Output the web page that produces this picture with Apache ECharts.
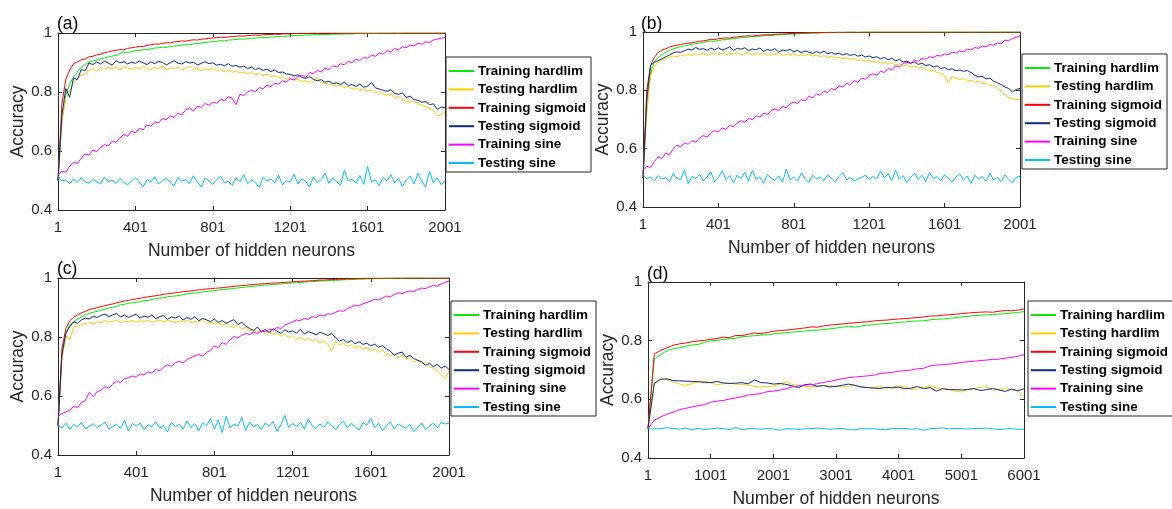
<!DOCTYPE html>
<html><head><meta charset="utf-8">
<script src="https://cdn.jsdelivr.net/npm/echarts@6/dist/echarts.min.js"></script>
<style>html,body{margin:0;padding:0;background:#fff}#c{width:1172px;height:509px}</style>
</head><body><div id="c"></div>
<script>
// ---------- data ----------
const seriesNames = ['Training hardlim','Testing hardlim','Training sigmoid','Testing sigmoid','Training sine','Testing sine'];
const panelLabels = ['(a)','(b)','(c)','(d)'];
const neuronsABC = Array.from({length:101},(_,i)=>String(1+20*i));   // 1,21,...,2001
const neuronsD   = Array.from({length:61},(_,i)=>String(1+100*i));   // 1,101,...,6001
const xTitle = 'Number of hidden neurons';
const yTitle = 'Accuracy';

// panel (a)
const a_trainHard = [0.500,0.700,0.790,0.828,0.850,0.868,0.884,0.893,0.901,0.905,
0.908,0.912,0.915,0.919,0.922,0.924,0.930,0.935,0.934,0.937,
0.940,0.941,0.944,0.943,0.946,0.949,0.950,0.952,0.951,0.954,
0.956,0.957,0.959,0.961,0.960,0.963,0.965,0.966,0.968,0.969,
0.971,0.972,0.974,0.973,0.976,0.977,0.978,0.980,0.979,0.981,
0.982,0.983,0.984,0.985,0.985,0.986,0.987,0.988,0.989,0.989,
0.990,0.991,0.991,0.992,0.993,0.993,0.994,0.994,0.995,0.995,
0.995,0.996,0.996,0.996,0.997,0.997,0.997,0.998,0.998,0.998,
0.998,0.999,0.998,0.999,0.999,0.999,0.999,1.000,0.999,1.000,
1.000,1.000,1.000,1.000,1.000,1.000,1.000,1.000,1.000,1.000,
1.000];
const a_testHard = [0.500,0.700,0.780,0.805,0.828,0.846,0.858,0.861,0.873,0.879,
0.871,0.882,0.876,0.885,0.879,0.883,0.874,0.886,0.880,0.877,
0.884,0.878,0.887,0.881,0.875,0.883,0.879,0.888,0.876,0.882,
0.880,0.885,0.874,0.881,0.886,0.877,0.882,0.871,0.879,0.875,
0.880,0.873,0.876,0.869,0.874,0.867,0.871,0.864,0.868,0.862,
0.866,0.858,0.863,0.855,0.860,0.851,0.856,0.848,0.852,0.844,
0.846,0.840,0.843,0.836,0.838,0.833,0.835,0.849,0.829,0.831,
0.825,0.828,0.820,0.823,0.816,0.819,0.810,0.814,0.806,0.811,
0.803,0.807,0.798,0.801,0.794,0.789,0.792,0.781,0.785,0.775,
0.770,0.765,0.768,0.760,0.755,0.750,0.745,0.738,0.719,0.722,
0.734];
const a_trainSig = [0.500,0.760,0.842,0.874,0.896,0.902,0.909,0.912,0.919,0.921,
0.926,0.928,0.933,0.936,0.939,0.941,0.944,0.943,0.948,0.950,
0.952,0.955,0.954,0.958,0.960,0.963,0.962,0.965,0.967,0.966,
0.970,0.971,0.973,0.972,0.975,0.977,0.976,0.979,0.980,0.982,
0.983,0.984,0.986,0.985,0.987,0.988,0.989,0.990,0.989,0.991,
0.992,0.993,0.992,0.994,0.995,0.995,0.996,0.995,0.997,0.997,
0.997,0.998,0.998,0.999,0.998,0.999,1.000,0.999,1.000,1.000,
1.000,1.000,1.000,1.000,1.000,1.000,1.000,1.000,1.000,1.000,
1.000,1.000,1.000,1.000,1.000,1.000,1.000,1.000,1.000,1.000,
1.000,1.000,1.000,1.000,1.000,1.000,1.000,1.000,1.000,1.000,
1.000];
const a_testSig = [0.500,0.720,0.812,0.782,0.848,0.842,0.876,0.872,0.898,0.893,
0.902,0.895,0.904,0.898,0.891,0.906,0.899,0.903,0.895,0.901,
0.897,0.905,0.899,0.893,0.902,0.896,0.904,0.900,0.892,0.899,
0.906,0.898,0.895,0.903,0.898,0.901,0.892,0.897,0.903,0.896,
0.899,0.891,0.894,0.889,0.896,0.887,0.890,0.884,0.888,0.879,
0.885,0.876,0.881,0.873,0.877,0.869,0.874,0.866,0.868,0.861,
0.860,0.855,0.858,0.849,0.846,0.852,0.843,0.838,0.842,0.833,
0.836,0.829,0.831,0.826,0.833,0.822,0.825,0.819,0.827,0.816,
0.820,0.832,0.814,0.810,0.806,0.802,0.808,0.795,0.792,0.797,
0.781,0.786,0.774,0.772,0.765,0.768,0.757,0.760,0.741,0.749,
0.746];
const a_trainSine = [0.520,0.531,0.528,0.548,0.562,0.558,0.575,0.590,0.586,0.603,
0.598,0.612,0.622,0.617,0.633,0.629,0.645,0.656,0.650,0.668,
0.661,0.677,0.672,0.688,0.684,0.699,0.695,0.710,0.706,0.719,
0.714,0.728,0.722,0.740,0.746,0.735,0.752,0.748,0.761,0.755,
0.766,0.762,0.776,0.770,0.784,0.779,0.757,0.792,0.788,0.800,
0.806,0.801,0.815,0.811,0.823,0.818,0.830,0.826,0.838,0.834,
0.845,0.841,0.852,0.858,0.849,0.866,0.862,0.873,0.868,0.880,
0.876,0.889,0.885,0.896,0.892,0.904,0.899,0.911,0.907,0.918,
0.914,0.925,0.921,0.932,0.928,0.940,0.936,0.947,0.943,0.953,
0.950,0.959,0.956,0.965,0.962,0.970,0.968,0.976,0.979,0.982,
0.985];
const a_testSine = [0.515,0.498,0.502,0.489,0.505,0.493,0.510,0.496,0.491,0.503,
0.497,0.488,0.512,0.495,0.501,0.490,0.507,0.494,0.485,0.499,
0.509,0.496,0.478,0.503,0.495,0.513,0.488,0.500,0.507,0.493,
0.482,0.511,0.497,0.504,0.490,0.516,0.495,0.478,0.508,0.499,
0.487,0.503,0.514,0.492,0.498,0.484,0.510,0.496,0.520,0.489,
0.502,0.493,0.476,0.512,0.499,0.505,0.491,0.518,0.486,0.500,
0.495,0.521,0.488,0.506,0.497,0.478,0.513,0.492,0.503,0.525,
0.490,0.508,0.496,0.484,0.534,0.499,0.505,0.491,0.517,0.487,
0.548,0.496,0.502,0.483,0.511,0.498,0.520,0.492,0.507,0.480,
0.501,0.515,0.488,0.524,0.497,0.478,0.531,0.492,0.509,0.486,
0.497];

// panel (b)
const b_trainHard = [0.500,0.750,0.860,0.898,0.912,0.922,0.930,0.937,0.942,0.946,
0.950,0.953,0.955,0.958,0.960,0.962,0.964,0.967,0.969,0.968,
0.971,0.973,0.974,0.976,0.977,0.979,0.980,0.981,0.983,0.984,
0.985,0.986,0.987,0.988,0.988,0.990,0.990,0.991,0.992,0.993,
0.993,0.994,0.995,0.995,0.996,0.996,0.997,0.997,0.998,0.998,
0.998,0.999,0.998,0.999,0.999,0.999,1.000,0.999,1.000,1.000,
1.000,1.000,1.000,1.000,1.000,1.000,1.000,1.000,1.000,1.000,
1.000,1.000,1.000,1.000,1.000,1.000,1.000,1.000,1.000,1.000,
1.000,1.000,1.000,1.000,1.000,1.000,1.000,1.000,1.000,1.000,
1.000,1.000,1.000,1.000,1.000,1.000,1.000,1.000,1.000,1.000,
1.000];
const b_testHard = [0.500,0.720,0.850,0.880,0.898,0.905,0.910,0.913,0.918,0.915,
0.921,0.917,0.924,0.919,0.926,0.922,0.928,0.920,0.925,0.929,
0.923,0.927,0.921,0.928,0.924,0.930,0.922,0.926,0.929,0.921,
0.927,0.923,0.929,0.920,0.925,0.922,0.928,0.919,0.924,0.921,
0.926,0.918,0.923,0.920,0.925,0.917,0.921,0.915,0.919,0.913,
0.917,0.910,0.914,0.908,0.912,0.905,0.909,0.902,0.906,0.899,
0.903,0.896,0.900,0.893,0.897,0.890,0.894,0.887,0.891,0.883,
0.888,0.880,0.884,0.876,0.879,0.871,0.866,0.869,0.861,0.858,
0.850,0.825,0.848,0.842,0.836,0.840,0.831,0.835,0.827,0.832,
0.822,0.826,0.815,0.819,0.808,0.797,0.785,0.776,0.772,0.769,
0.770];
const b_trainSig = [0.500,0.800,0.885,0.912,0.930,0.938,0.942,0.948,0.952,0.955,
0.957,0.960,0.962,0.963,0.966,0.968,0.970,0.972,0.975,0.974,
0.977,0.978,0.980,0.979,0.982,0.983,0.985,0.986,0.987,0.986,
0.988,0.989,0.990,0.991,0.990,0.992,0.993,0.993,0.994,0.995,
0.995,0.996,0.996,0.997,0.997,0.998,0.997,0.998,0.998,0.999,
0.999,0.999,1.000,0.999,1.000,1.000,1.000,0.999,1.000,1.000,
1.000,1.000,1.000,1.000,1.000,1.000,1.000,1.000,1.000,1.000,
1.000,1.000,1.000,1.000,1.000,1.000,1.000,1.000,1.000,1.000,
1.000,1.000,1.000,1.000,1.000,1.000,1.000,1.000,1.000,1.000,
1.000,1.000,1.000,1.000,1.000,1.000,1.000,1.000,1.000,1.000,
1.000];
const b_testSig = [0.500,0.770,0.885,0.896,0.902,0.908,0.915,0.921,0.928,0.932,
0.930,0.936,0.941,0.938,0.947,0.940,0.943,0.937,0.945,0.939,
0.946,0.938,0.943,0.949,0.937,0.944,0.941,0.946,0.936,0.942,
0.939,0.945,0.934,0.940,0.937,0.943,0.931,0.938,0.935,0.941,
0.932,0.937,0.929,0.935,0.931,0.926,0.933,0.928,0.934,0.925,
0.930,0.924,0.928,0.921,0.926,0.919,0.924,0.917,0.921,0.914,
0.918,0.912,0.915,0.908,0.913,0.905,0.910,0.901,0.906,0.897,
0.900,0.894,0.897,0.889,0.893,0.885,0.888,0.880,0.884,0.875,
0.878,0.871,0.874,0.867,0.870,0.865,0.868,0.861,0.852,0.846,
0.848,0.839,0.842,0.831,0.826,0.820,0.812,0.806,0.795,0.803,
0.807];
const b_trainSine = [0.525,0.540,0.535,0.556,0.572,0.566,0.585,0.579,0.598,0.612,
0.606,0.620,0.615,0.628,0.622,0.637,0.645,0.640,0.655,0.662,
0.657,0.671,0.666,0.680,0.675,0.688,0.696,0.690,0.704,0.699,
0.713,0.708,0.722,0.717,0.731,0.736,0.730,0.745,0.740,0.754,
0.760,0.755,0.769,0.764,0.780,0.774,0.788,0.783,0.797,0.792,
0.806,0.801,0.816,0.811,0.824,0.820,0.833,0.828,0.842,0.838,
0.851,0.857,0.852,0.866,0.861,0.875,0.870,0.884,0.880,0.892,
0.896,0.891,0.903,0.899,0.910,0.906,0.915,0.912,0.920,0.917,
0.925,0.922,0.930,0.928,0.935,0.932,0.941,0.938,0.947,0.944,
0.952,0.949,0.957,0.955,0.962,0.960,0.972,0.970,0.978,0.981,
0.987];
const b_testSine = [0.512,0.496,0.503,0.490,0.508,0.495,0.501,0.487,0.515,0.499,
0.493,0.528,0.480,0.505,0.497,0.512,0.489,0.503,0.520,0.486,
0.501,0.524,0.494,0.508,0.483,0.510,0.497,0.519,0.488,0.526,
0.495,0.503,0.481,0.512,0.498,0.491,0.507,0.485,0.530,0.494,
0.502,0.489,0.516,0.497,0.484,0.509,0.496,0.503,0.491,0.511,
0.498,0.487,0.505,0.518,0.493,0.501,0.490,0.496,0.502,0.509,
0.494,0.505,0.497,0.524,0.500,0.514,0.490,0.526,0.495,0.508,
0.483,0.502,0.516,0.494,0.509,0.487,0.518,0.498,0.504,0.490,
0.511,0.497,0.485,0.503,0.514,0.492,0.506,0.481,0.509,0.496,
0.504,0.489,0.515,0.493,0.501,0.486,0.510,0.495,0.483,0.502,
0.505];

// panel (c)
const c_trainHard = [0.500,0.740,0.815,0.840,0.852,0.861,0.868,0.875,0.880,0.884,
0.887,0.891,0.894,0.898,0.901,0.904,0.909,0.911,0.914,0.916,
0.918,0.920,0.923,0.924,0.927,0.930,0.932,0.933,0.936,0.938,
0.939,0.941,0.943,0.946,0.948,0.949,0.951,0.953,0.954,0.956,
0.957,0.959,0.961,0.962,0.963,0.965,0.966,0.968,0.969,0.971,
0.972,0.973,0.975,0.976,0.977,0.978,0.979,0.980,0.981,0.982,
0.983,0.984,0.985,0.986,0.987,0.988,0.988,0.990,0.990,0.991,
0.992,0.992,0.993,0.994,0.994,0.995,0.995,0.996,0.996,0.997,
0.997,0.998,0.998,0.998,0.999,0.999,0.999,1.000,0.999,1.000,
1.000,1.000,1.000,1.000,1.000,1.000,1.000,1.000,1.000,1.000,
1.000];
const c_testHard = [0.500,0.720,0.805,0.790,0.832,0.838,0.842,0.846,0.849,0.845,
0.852,0.848,0.855,0.850,0.853,0.857,0.849,0.854,0.851,0.856,
0.850,0.855,0.852,0.858,0.849,0.854,0.857,0.851,0.856,0.853,
0.849,0.855,0.851,0.857,0.848,0.853,0.850,0.861,0.846,0.851,
0.845,0.849,0.840,0.846,0.837,0.832,0.840,0.826,0.834,0.821,
0.828,0.816,0.823,0.812,0.819,0.808,0.815,0.803,0.810,0.797,
0.805,0.793,0.800,0.788,0.796,0.785,0.791,0.780,0.787,0.776,
0.752,0.785,0.772,0.779,0.768,0.774,0.762,0.770,0.758,0.765,
0.754,0.760,0.748,0.755,0.741,0.736,0.744,0.730,0.738,0.724,
0.731,0.716,0.722,0.708,0.713,0.700,0.694,0.686,0.672,0.658,
0.685];
const c_trainSig = [0.500,0.760,0.828,0.855,0.867,0.875,0.882,0.887,0.893,0.896,
0.899,0.903,0.906,0.910,0.912,0.916,0.919,0.922,0.924,0.927,
0.929,0.931,0.934,0.936,0.938,0.940,0.942,0.945,0.946,0.948,
0.950,0.952,0.954,0.955,0.956,0.958,0.960,0.961,0.963,0.964,
0.965,0.966,0.967,0.969,0.970,0.972,0.973,0.974,0.975,0.977,
0.978,0.979,0.980,0.981,0.982,0.983,0.983,0.984,0.985,0.986,
0.987,0.988,0.989,0.989,0.990,0.991,0.992,0.993,0.993,0.994,
0.995,0.995,0.996,0.996,0.997,0.997,0.998,0.998,0.999,0.999,
0.999,1.000,0.999,1.000,1.000,1.000,1.000,1.000,1.000,1.000,
1.000,1.000,1.000,1.000,1.000,1.000,1.000,1.000,1.000,1.000,
1.000];
const c_testSig = [0.500,0.740,0.812,0.835,0.852,0.846,0.858,0.864,0.861,0.870,
0.866,0.873,0.878,0.869,0.875,0.880,0.868,0.874,0.866,0.872,
0.877,0.864,0.871,0.867,0.875,0.862,0.869,0.873,0.860,0.868,
0.864,0.871,0.858,0.866,0.860,0.869,0.855,0.863,0.858,0.852,
0.861,0.849,0.856,0.846,0.853,0.859,0.842,0.850,0.837,0.829,
0.821,0.834,0.818,0.826,0.815,0.828,0.820,0.812,0.824,0.817,
0.821,0.813,0.826,0.810,0.818,0.814,0.807,0.816,0.811,0.805,
0.812,0.798,0.786,0.792,0.781,0.788,0.777,0.784,0.775,0.779,
0.770,0.776,0.765,0.771,0.760,0.752,0.738,0.745,0.749,0.731,
0.738,0.727,0.721,0.716,0.704,0.711,0.699,0.708,0.694,0.702,
0.690];
const c_trainSine = [0.531,0.540,0.546,0.552,0.565,0.560,0.578,0.585,0.612,0.598,
0.614,0.620,0.632,0.627,0.640,0.651,0.645,0.659,0.662,0.668,
0.664,0.675,0.671,0.682,0.678,0.690,0.686,0.697,0.706,0.700,
0.712,0.718,0.712,0.724,0.730,0.736,0.741,0.735,0.748,0.755,
0.770,0.764,0.781,0.775,0.790,0.802,0.797,0.806,0.812,0.808,
0.816,0.812,0.820,0.818,0.826,0.823,0.832,0.829,0.840,0.846,
0.851,0.858,0.855,0.863,0.860,0.869,0.866,0.875,0.871,0.879,
0.877,0.884,0.889,0.887,0.896,0.902,0.908,0.905,0.913,0.917,
0.922,0.928,0.925,0.933,0.939,0.936,0.944,0.950,0.947,0.953,
0.956,0.954,0.961,0.966,0.964,0.970,0.975,0.972,0.980,0.985,
0.990];
const c_testSine = [0.500,0.492,0.508,0.486,0.503,0.495,0.511,0.489,0.498,0.506,
0.493,0.501,0.512,0.488,0.496,0.504,0.490,0.517,0.481,0.507,
0.498,0.509,0.486,0.502,0.495,0.513,0.491,0.500,0.478,0.511,
0.496,0.504,0.488,0.515,0.493,0.506,0.482,0.510,0.499,0.524,
0.487,0.519,0.476,0.531,0.492,0.505,0.498,0.527,0.483,0.512,
0.495,0.503,0.486,0.509,0.497,0.514,0.480,0.502,0.534,0.493,
0.507,0.496,0.511,0.488,0.522,0.499,0.490,0.505,0.494,0.512,
0.498,0.486,0.503,0.515,0.492,0.508,0.496,0.484,0.510,0.501,
0.524,0.493,0.507,0.482,0.499,0.512,0.488,0.505,0.497,0.491,
0.503,0.479,0.494,0.509,0.486,0.497,0.508,0.492,0.510,0.505,
0.508];

// panel (d)
const d_trainHard = [0.500,0.738,0.752,0.766,0.772,0.776,0.781,0.785,0.787,0.794,
0.800,0.801,0.804,0.806,0.809,0.813,0.815,0.817,0.819,0.820,
0.823,0.825,0.827,0.829,0.831,0.833,0.835,0.836,0.838,0.840,
0.843,0.846,0.849,0.846,0.850,0.853,0.855,0.857,0.858,0.860,
0.862,0.864,0.866,0.867,0.868,0.871,0.873,0.874,0.876,0.878,
0.881,0.883,0.885,0.887,0.888,0.889,0.891,0.892,0.894,0.896,
0.899];
const d_testHard = [0.500,0.650,0.674,0.666,0.660,0.652,0.648,0.653,0.660,0.662,
0.656,0.650,0.653,0.655,0.652,0.651,0.649,0.644,0.642,0.644,
0.645,0.652,0.660,0.651,0.648,0.644,0.643,0.645,0.647,0.646,
0.645,0.642,0.644,0.648,0.643,0.641,0.640,0.644,0.638,0.643,
0.646,0.642,0.633,0.637,0.641,0.646,0.639,0.637,0.635,0.628,
0.625,0.634,0.636,0.641,0.643,0.631,0.634,0.637,0.633,0.630,
0.610];
const d_trainSig = [0.500,0.755,0.766,0.776,0.784,0.789,0.792,0.796,0.799,0.801,
0.805,0.807,0.812,0.810,0.818,0.817,0.822,0.826,0.824,0.828,
0.832,0.834,0.836,0.838,0.841,0.843,0.847,0.846,0.850,0.853,
0.855,0.857,0.859,0.861,0.863,0.864,0.867,0.869,0.870,0.872,
0.874,0.875,0.877,0.879,0.881,0.884,0.884,0.887,0.888,0.890,
0.892,0.894,0.896,0.897,0.898,0.897,0.900,0.903,0.902,0.904,
0.908];
const d_testSig = [0.500,0.655,0.668,0.670,0.664,0.663,0.662,0.661,0.660,0.658,
0.657,0.661,0.656,0.654,0.655,0.657,0.653,0.666,0.657,0.656,
0.652,0.654,0.651,0.646,0.640,0.650,0.652,0.644,0.647,0.642,
0.644,0.648,0.652,0.648,0.642,0.640,0.638,0.637,0.641,0.639,
0.642,0.636,0.638,0.644,0.636,0.640,0.628,0.636,0.633,0.633,
0.632,0.633,0.637,0.630,0.633,0.637,0.632,0.627,0.635,0.629,
0.636];
const d_trainSine = [0.500,0.529,0.540,0.549,0.556,0.565,0.569,0.574,0.578,0.582,
0.590,0.594,0.596,0.601,0.605,0.609,0.615,0.617,0.620,0.626,
0.628,0.631,0.636,0.642,0.646,0.648,0.650,0.653,0.658,0.661,
0.666,0.670,0.674,0.676,0.678,0.680,0.682,0.688,0.690,0.692,
0.696,0.698,0.700,0.704,0.706,0.714,0.717,0.718,0.720,0.722,
0.726,0.728,0.730,0.732,0.734,0.736,0.737,0.740,0.743,0.747,
0.753];
const d_testSine = [0.500,0.499,0.500,0.503,0.501,0.498,0.502,0.496,0.501,0.497,
0.499,0.502,0.500,0.497,0.504,0.497,0.500,0.500,0.498,0.500,
0.499,0.494,0.500,0.499,0.498,0.499,0.500,0.502,0.500,0.498,
0.500,0.501,0.497,0.496,0.500,0.499,0.500,0.498,0.496,0.501,
0.500,0.501,0.498,0.500,0.494,0.500,0.501,0.503,0.499,0.501,
0.500,0.499,0.501,0.500,0.502,0.500,0.497,0.499,0.500,0.498,
0.498];

// ---------- styling / layout ----------
const colors = ['#00ee00','#ffcc00','#ff0000','#0b2b8c','#ff00ff','#00bfff'];
const FONT = "'Liberation Sans', Arial, sans-serif";
const AX = '#262626';
const panels = [
  {cats: neuronsABC, lblInt: 19, data: [a_trainHard,a_testHard,a_trainSig,a_testSig,a_trainSine,a_testSine],
   grid: {left:58, top:33, width:387, height:177}, legend: {left:446, top:57}, label: {x:57, y:24}},
  {cats: neuronsABC, lblInt: 19, data: [b_trainHard,b_testHard,b_trainSig,b_testSig,b_trainSine,b_testSine],
   grid: {left:643, top:32, width:377, height:175}, legend: {left:1022, top:54}, label: {x:641, y:24}},
  {cats: neuronsABC, lblInt: 19, data: [c_trainHard,c_testHard,c_trainSig,c_testSig,c_trainSine,c_testSine],
   grid: {left:58, top:278, width:391, height:177}, legend: {left:451, top:301}, label: {x:57, y:269}},
  {cats: neuronsD, lblInt: 9, data: [d_trainHard,d_testHard,d_trainSig,d_testSig,d_trainSine,d_testSine],
   grid: {left:648, top:282, width:376, height:176}, legend: {left:1028, top:301}, label: {x:647, y:274}}
];

const option = {animation:false, backgroundColor:'#fff', grid:[], xAxis:[], yAxis:[], series:[], legend:[], graphic:[]};
panels.forEach((p, g) => {
  option.grid.push(Object.assign({containLabel:false}, p.grid));
  const tick = {show:true, inside:true, length:4, interval:p.lblInt, lineStyle:{color:AX, width:1}};
  option.xAxis.push({type:'category', gridIndex:g, data:p.cats, boundaryGap:false, position:'bottom',
    axisLine:{lineStyle:{color:AX, width:1}}, axisTick:tick,
    axisLabel:{interval:p.lblInt, margin:10, fontSize:15, color:AX, fontFamily:FONT},
    name:xTitle, nameLocation:'middle', nameGap:32, nameTextStyle:{fontSize:17.5, color:AX, fontFamily:FONT},
    splitLine:{show:false}});
  option.xAxis.push({type:'category', gridIndex:g, data:p.cats, boundaryGap:false, position:'top',
    axisLine:{lineStyle:{color:AX, width:1}}, axisTick:tick, axisLabel:{show:false}, splitLine:{show:false}});
  option.yAxis.push({type:'value', gridIndex:g, min:0.4, max:1, interval:0.2, position:'left',
    axisLine:{show:true, lineStyle:{color:AX, width:1}}, axisTick:{show:true, inside:true, length:4, lineStyle:{color:AX}},
    axisLabel:{margin:6, fontSize:15, color:AX, fontFamily:FONT},
    name:yTitle, nameLocation:'middle', nameGap:31, nameTextStyle:{fontSize:17.5, color:AX, fontFamily:FONT},
    splitLine:{show:false}});
  option.yAxis.push({type:'value', gridIndex:g, min:0.4, max:1, interval:0.2, position:'right',
    axisLine:{show:true, lineStyle:{color:AX, width:1}}, axisTick:{show:true, inside:true, length:4, lineStyle:{color:AX}},
    axisLabel:{show:false}, splitLine:{show:false}});
  seriesNames.forEach((nm, k) => {
    option.series.push({type:'line', name:nm, xAxisIndex:2*g, yAxisIndex:2*g, data:p.data[k],
      showSymbol:false, symbol:'none', smooth:false, color:colors[k],
      lineStyle:{width:1, color:colors[k]}, emphasis:{disabled:true}, z:2+k});
  });
  option.legend.push({orient:'vertical', left:p.legend.left, top:p.legend.top, data:seriesNames,
    icon:'rect', itemWidth:25, itemHeight:2, itemGap:4.4, selectedMode:false,
    padding:[7,5,2,3], borderColor:AX, borderWidth:1, backgroundColor:'#fff',
    textStyle:{fontFamily:FONT, fontWeight:'bold', fontSize:13.5, color:'#000', lineHeight:14, padding:[0,0,0,-1]}});
  option.graphic.push({type:'text', x:p.label.x, y:p.label.y,
    style:{text:panelLabels[g], font:'17.5px ' + FONT, fill:'#000', verticalAlign:'middle'}});
});

const chart = echarts.init(document.getElementById('c'), null, {renderer:'canvas'});
chart.setOption(option);
</script>
</body></html>
